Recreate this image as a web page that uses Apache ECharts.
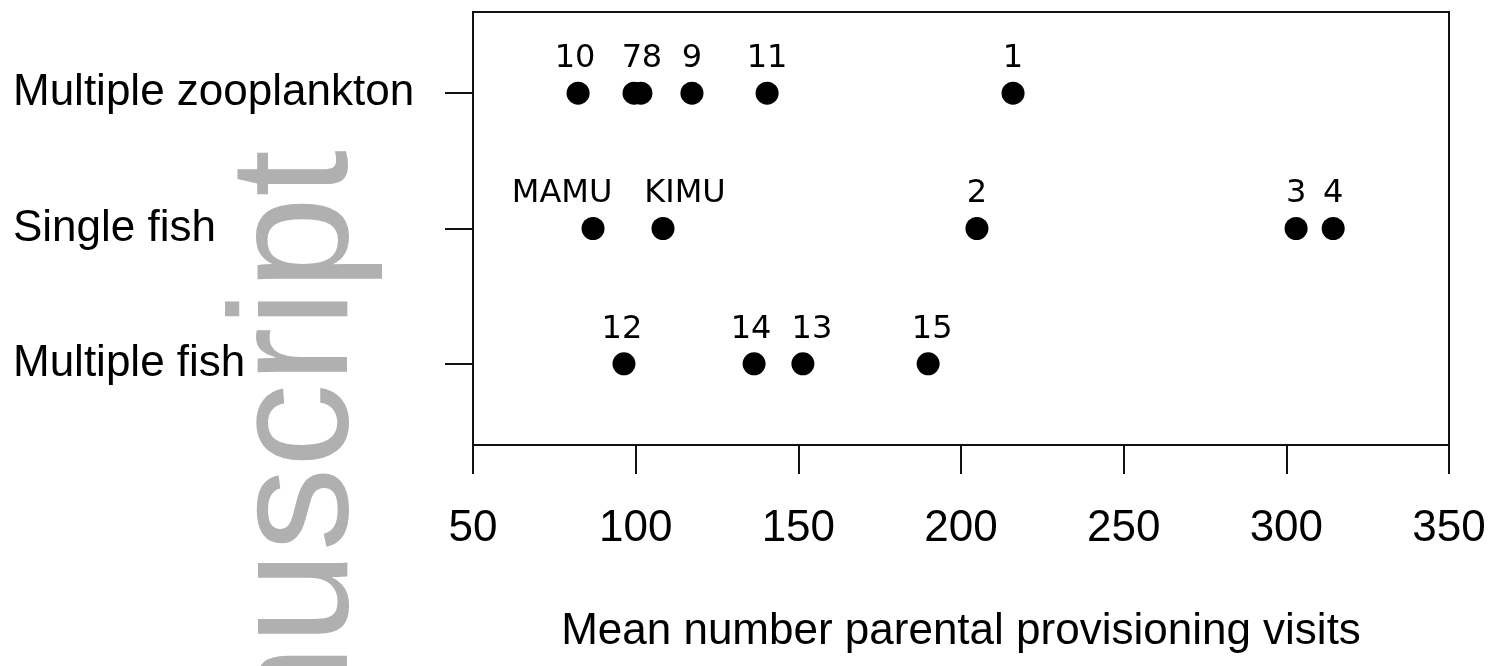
<!DOCTYPE html>
<html>
<head>
<meta charset="utf-8">
<script src="https://cdn.jsdelivr.net/npm/echarts@6/dist/echarts.min.js"></script>
<style>
html,body{margin:0;padding:0;background:#fff;}
#chart{width:1502px;height:666px;}
</style>
</head>
<body>
<div id="chart"></div>
<script>
// ---- data ----
const categories = ['Multiple fish', 'Single fish', 'Multiple zooplankton']; // bottom -> top
const xTickLabels = [50, 100, 150, 200, 250, 300, 350];
const xTitle = 'Mean number parental provisioning visits';

const zooplanktonLabels = ['10', '7', '8', '9', '11', '1'];
const zooplanktonValues = [82.3, 99.5, 101.6, 117.3, 140.4, 216.0];

const singleFishLabels = ['MAMU', 'KIMU', '2', '3', '4'];
const singleFishValues = [86.9, 108.4, 204.9, 303.0, 314.4];

const multiFishLabels = ['12', '14', '13', '15'];
const multiFishValues = [96.4, 136.4, 151.4, 189.9];

// small label nudges (horizontal px) to mimic the hand-placed labels
const labelNudge = { '10': -3, '7': -2, '8': 11, 'MAMU': -31, 'KIMU': 22, '13': 9, '14': -3, '15': 4, '12': -2 };

function buildSeries(values, labels, catName) {
  const yIdx = categories.indexOf(catName) + 1;
  return {
    type: 'scatter',
    symbol: 'circle',
    symbolSize: 23,
    itemStyle: { color: '#000', opacity: 1 },
    data: values.map((v, i) => ({
      value: [v, yIdx],
      name: labels[i],
      label: { offset: [labelNudge[labels[i]] || 0, 0] }
    })),
    label: {
      show: true,
      position: 'top',
      distance: 7,
      formatter: p => p.name,
      fontFamily: 'DejaVu Sans',
      fontSize: 32,
      lineHeight: 32,
      color: '#000',
      opacity: 1
    },
    emphasis: { disabled: true },
    silent: true
  };
}

const chart = echarts.init(document.getElementById('chart'), null, { renderer: 'canvas' });
chart.setOption({
  animation: false,
  backgroundColor: '#fff',
  graphic: [{
    type: 'text',
    x: 301,
    y: 150,
    rotation: Math.PI / 2,
    z: -10,
    silent: true,
    style: {
      text: 'Accepted Manuscript',
      font: '168px "Liberation Sans", Arial, sans-serif',
      fill: '#b0b0b0',
      textAlign: 'right',
      textVerticalAlign: 'middle',
      align: 'right',
      verticalAlign: 'middle'
    }
  }],
  grid: {
    left: 473, right: 53, top: 12, bottom: 221,
    show: true, borderColor: '#111', borderWidth: 2, backgroundColor: 'transparent'
  },
  xAxis: {
    type: 'value',
    min: 50, max: 350, interval: 50,
    name: xTitle,
    nameLocation: 'middle',
    nameGap: 165,
    nameTextStyle: { fontFamily: 'Liberation Sans', fontSize: 44, color: '#000' },
    axisLine: { show: true, lineStyle: { color: '#111', width: 2 } },
    axisTick: { show: true, inside: false, length: 29, lineStyle: { color: '#111', width: 2 } },
    axisLabel: {
      margin: 62,
      fontFamily: 'Liberation Sans', fontSize: 44, lineHeight: 44, color: '#000',
      formatter: v => (xTickLabels.indexOf(v) >= 0 ? String(v) : '')
    },
    splitLine: { show: false }
  },
  yAxis: {
    type: 'value',
    min: 0.4, max: 3.6,
    axisLine: { show: true, lineStyle: { color: '#111', width: 2 } },
    axisTick: { show: true, inside: false, length: 28, customValues: [1, 2, 3], lineStyle: { color: '#111', width: 2 } },
    axisLabel: {
      margin: 460,
      align: 'left',
      customValues: [1, 2, 3],
      fontFamily: 'Liberation Sans', fontSize: 44, color: '#000',
      formatter: v => categories[Math.round(v) - 1] || ''
    },
    splitLine: { show: false }
  },
  series: [
    buildSeries(zooplanktonValues, zooplanktonLabels, 'Multiple zooplankton'),
    buildSeries(singleFishValues, singleFishLabels, 'Single fish'),
    buildSeries(multiFishValues, multiFishLabels, 'Multiple fish')
  ]
});
</script>
</body>
</html>
